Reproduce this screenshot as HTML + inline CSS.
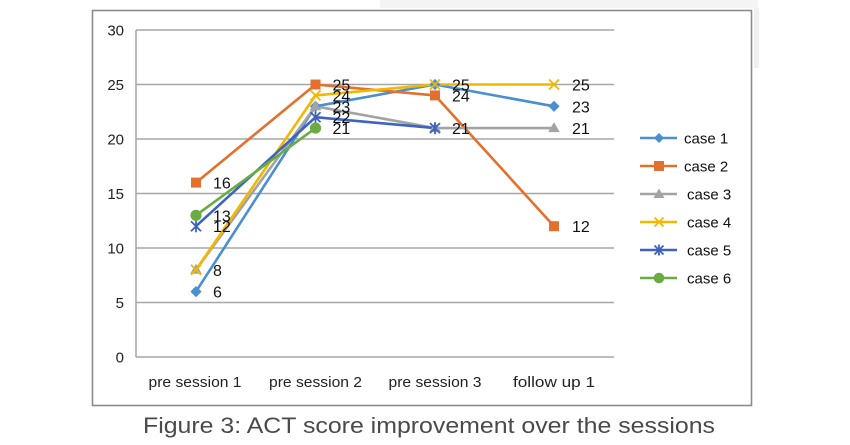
<!DOCTYPE html>
<html><head><meta charset="utf-8"><style>
html,body{margin:0;padding:0;background:#fff;}
svg{display:block;}
text{font-family:"Liberation Sans",sans-serif;}
</style></head><body>
<svg width="850" height="445" viewBox="0 0 850 445" xmlns="http://www.w3.org/2000/svg">
<rect x="0" y="0" width="850" height="445" fill="#fff"/>
<rect x="380" y="0" width="378" height="8" fill="#f4f4f4"/>
<rect x="754" y="8" width="5" height="60" fill="#f0f0f0"/>
<rect x="92.5" y="10.5" width="659" height="395" fill="#fff" stroke="#8c8c8c" stroke-width="1.6"/>
<!-- gridlines -->
<g stroke="#a6a6a6" stroke-width="1.5">
<line x1="136" y1="30" x2="614" y2="30"/>
<line x1="136" y1="84.5" x2="614" y2="84.5"/>
<line x1="136" y1="139" x2="614" y2="139"/>
<line x1="136" y1="193.5" x2="614" y2="193.5"/>
<line x1="136" y1="248" x2="614" y2="248"/>
<line x1="136" y1="302.5" x2="614" y2="302.5"/>
<line x1="136" y1="357" x2="614" y2="357"/>
<line x1="136" y1="30" x2="136" y2="357"/>
</g>
<!-- y labels -->
<g font-size="15" fill="#222" text-anchor="end">
<text x="124" y="35.5">30</text>
<text x="124" y="90">25</text>
<text x="124" y="144.5">20</text>
<text x="124" y="199">15</text>
<text x="124" y="253.5">10</text>
<text x="124" y="308">5</text>
<text x="124" y="362.5">0</text>
</g>
<!-- x labels -->
<g font-size="15" fill="#222" text-anchor="middle">
<text x="195" y="387" textLength="93" lengthAdjust="spacingAndGlyphs">pre session 1</text>
<text x="315.5" y="387" textLength="93" lengthAdjust="spacingAndGlyphs">pre session 2</text>
<text x="435" y="387" textLength="93" lengthAdjust="spacingAndGlyphs">pre session 3</text>
<text x="554" y="387" textLength="82" lengthAdjust="spacingAndGlyphs">follow up 1</text>
</g>
<!-- series -->
<g fill="none" stroke-width="2.6" stroke-linejoin="round">
<polyline stroke="#4a8fd0" points="196,291.6 315.5,106.3 435,84.5 554,106.3"/>
<polyline stroke="#e2702e" points="196,182.6 315.5,84.5 435,95.4 554,226.2"/>
<polyline stroke="#a3a3a3" points="196,269.8 315.5,106.3 435,128.1 554,128.1"/>
<polyline stroke="#f2b800" points="196,269.8 315.5,95.4 435,84.5 554,84.5"/>
<polyline stroke="#3d62c2" points="196,226.2 315.5,117.2 435,128.1"/>
<polyline stroke="#6aac42" points="196,215.3 315.5,128.1"/>
</g>
<!-- markers -->
<g>
<g fill="#4a8fd0">
<polygon points="196,286 201.6,291.6 196,297.2 190.4,291.6"/>
<polygon points="315.5,100.7 321.1,106.3 315.5,111.9 309.9,106.3"/>
<polygon points="435,78.9 440.6,84.5 435,90.1 429.4,84.5"/>
<polygon points="554,100.7 559.6,106.3 554,111.9 548.4,106.3"/>
</g>
<g fill="#e2702e">
<rect x="191" y="177.6" width="10" height="10"/>
<rect x="310.5" y="79.5" width="10" height="10"/>
<rect x="430" y="90.4" width="10" height="10"/>
<rect x="549" y="221.2" width="10" height="10"/>
</g>
<g fill="#a3a3a3">
<polygon points="196,263.8 201.8,273.8 190.2,273.8"/>
<polygon points="315.5,100.3 321.3,110.3 309.7,110.3"/>
<polygon points="435,122.1 440.8,132.1 429.2,132.1"/>
<polygon points="554,122.1 559.8,132.1 548.2,132.1"/>
</g>
<g stroke="#f2b800" stroke-width="1.8">
<path d="M191,264.8 L201,274.8 M201,264.8 L191,274.8"/>
<path d="M310.5,90.4 L320.5,100.4 M320.5,90.4 L310.5,100.4"/>
<path d="M430,79.5 L440,89.5 M440,79.5 L430,89.5"/>
<path d="M549,79.5 L559,89.5 M559,79.5 L549,89.5"/>
</g>
<g stroke="#3d62c2" stroke-width="1.8">
<path d="M191,221.2 L201,231.2 M201,221.2 L191,231.2 M196,220.2 L196,232.2"/>
<path d="M310.5,112.2 L320.5,122.2 M320.5,112.2 L310.5,122.2 M315.5,111.2 L315.5,123.2"/>
<path d="M430,123.1 L440,133.1 M440,123.1 L430,133.1 M435,122.1 L435,134.1"/>
</g>
<g fill="#6aac42">
<circle cx="196" cy="215.3" r="5.6"/>
<circle cx="315.5" cy="128.1" r="5.6"/>
</g>
</g>
<!-- data labels -->
<g font-size="16" fill="#111">
<text x="213" y="297.6">6</text>
<text x="213" y="188.6">16</text>
<text x="213" y="275.8">8</text>
<text x="213" y="232.2">12</text>
<text x="213" y="221.3">13</text>
<text x="332.5" y="112.3">23</text>
<text x="332.5" y="90.5">25</text>
<text x="332.5" y="101.4">24</text>
<text x="332.5" y="123.2">22</text>
<text x="332.5" y="134.1">21</text>
<text x="452" y="90.5">25</text>
<text x="452" y="101.4">24</text>
<text x="452" y="134.1">21</text>
<text x="572" y="112.3">23</text>
<text x="572" y="232.2">12</text>
<text x="572" y="134.1">21</text>
<text x="572" y="90.5">25</text>
</g>
<!-- legend -->
<g stroke-width="2.6">
<line x1="640" y1="138" x2="677" y2="138" stroke="#4a8fd0"/>
<line x1="640" y1="166" x2="677" y2="166" stroke="#e2702e"/>
<line x1="640" y1="194" x2="677" y2="194" stroke="#a3a3a3"/>
<line x1="640" y1="222" x2="677" y2="222" stroke="#f2b800"/>
<line x1="640" y1="250" x2="677" y2="250" stroke="#3d62c2"/>
<line x1="640" y1="278" x2="677" y2="278" stroke="#6aac42"/>
</g>
<polygon points="659,133 664,138 659,143 654,138" fill="#4a8fd0"/>
<rect x="654" y="161" width="10" height="10" fill="#e2702e"/>
<polygon points="659,188.5 664.5,198 653.5,198" fill="#a3a3a3"/>
<path d="M654.5,217.5 L663.5,226.5 M663.5,217.5 L654.5,226.5" stroke="#f2b800" stroke-width="1.8"/>
<path d="M654.5,245.5 L663.5,254.5 M663.5,245.5 L654.5,254.5 M659,244.5 L659,255.5" stroke="#3d62c2" stroke-width="1.8"/>
<circle cx="659" cy="278" r="5.3" fill="#6aac42"/>
<g font-size="15" fill="#111">
<text x="684" y="143.5">case 1</text>
<text x="684" y="171.5">case 2</text>
<text x="687" y="199.5">case 3</text>
<text x="687" y="227.5">case 4</text>
<text x="687" y="255.5">case 5</text>
<text x="687" y="283.5">case 6</text>
</g>
<!-- caption -->
<text x="143" y="433" font-size="22" fill="#4a4a4a" textLength="572" lengthAdjust="spacingAndGlyphs">Figure 3: ACT score improvement over the sessions</text>
</svg>
</body></html>
